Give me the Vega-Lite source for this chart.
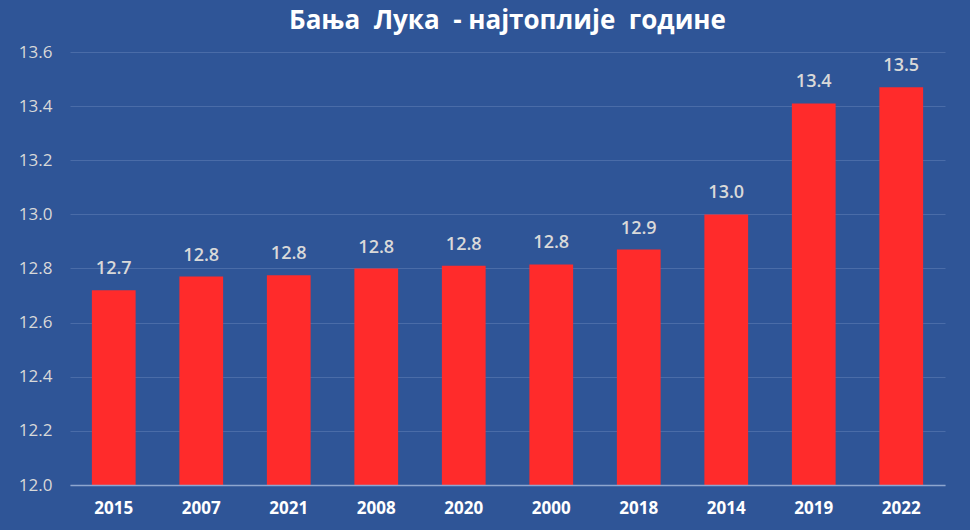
{
  "$schema": "https://vega.github.io/schema/vega-lite/v6.json",
  "autosize": "none",
  "width": 875,
  "height": 433,
  "padding": {"left": 70, "top": 52, "right": 25, "bottom": 45},
  "background": "#2F5597",
  "title": {
    "text": "Бања\u00a0 Лука\u00a0 -\u00a0најтоплије\u00a0 године",
    "anchor": "middle",
    "font": "Open Sans",
    "fontSize": 26,
    "fontWeight": "bold",
    "color": "#FFFFFF",
    "offset": 9
  },
  "config": {
    "view": {"stroke": null},
    "font": "Open Sans"
  },
  "data": {
    "values": [
      {"year": "2015", "temp": 12.72},
      {"year": "2007", "temp": 12.77},
      {"year": "2021", "temp": 12.775},
      {"year": "2008", "temp": 12.80},
      {"year": "2020", "temp": 12.81},
      {"year": "2000", "temp": 12.815},
      {"year": "2018", "temp": 12.87},
      {"year": "2014", "temp": 13.0},
      {"year": "2019", "temp": 13.41},
      {"year": "2022", "temp": 13.47}
    ]
  },
  "encoding": {
    "x": {
      "field": "year",
      "type": "nominal",
      "sort": null,
      "scale": {"paddingInner": 0.5, "paddingOuter": 0.25},
      "axis": {
        "title": null,
        "labelAngle": 0,
        "labelFontSize": 17,
        "labelFontWeight": "bold",
        "labelColor": "#FFFFFF",
        "labelPadding": 15,
        "ticks": false,
        "domainColor": "#8EA6CF",
        "domainWidth": 1.5,
        "zindex": 1
      }
    },
    "y": {
      "field": "temp",
      "type": "quantitative",
      "scale": {"domain": [12.0, 13.6], "nice": false, "zero": false},
      "axis": {
        "title": null,
        "values": [12.0, 12.2, 12.4, 12.6, 12.8, 13.0, 13.2, 13.4, 13.6],
        "format": ".1f",
        "labelFontSize": 17,
        "labelColor": "#D9D9D9",
        "labelPadding": 18,
        "ticks": false,
        "domain": false,
        "gridColor": "#4A6CA8",
        "gridWidth": 1
      }
    }
  },
  "layer": [
    {
      "mark": {"type": "bar", "color": "#FF2B2B", "clip": true}
    },
    {
      "mark": {
        "type": "text",
        "dy": -21,
        "fontSize": 18,
        "fontWeight": 600,
        "color": "#D9D9D9"
      },
      "encoding": {
        "text": {"field": "temp", "type": "quantitative", "format": ".1f"}
      }
    }
  ]
}
